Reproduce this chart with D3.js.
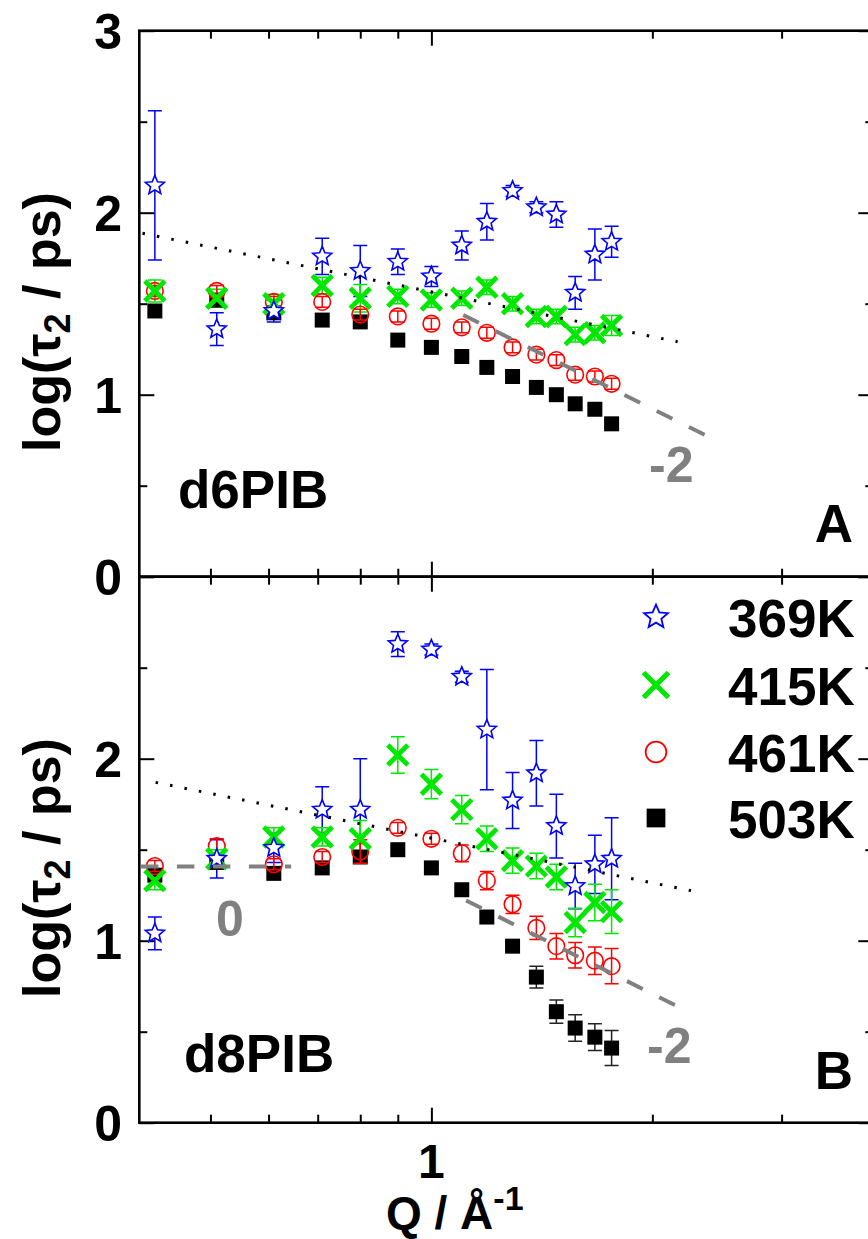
<!DOCTYPE html>
<html><head><meta charset="utf-8">
<script src="https://cdn.jsdelivr.net/npm/d3@7"></script>
<style>
body{margin:0;background:#fff;}
svg{display:block;}
text{font-family:"Liberation Sans",Arial,sans-serif;font-weight:bold;}
</style>
</head><body>
<svg id="c" width="868" height="1239"></svg>
<script>
// ---------- data ----------
const Q = [0.42,0.51,0.61,0.71,0.80,0.90,1.00,1.10,1.19,1.29,1.39,1.48,1.57,1.67,1.76];
const seriesNames = ["369K","415K","461K","503K"];

// Panel A (d6PIB)
const A369 = [2.15,1.36,1.46,1.76,1.68,1.73,1.65,1.82,1.95,2.12,2.03,1.99,1.56,1.77,1.84];
const A369err = [0.41,0.09,0.06,0.10,0.14,0.07,0.055,0.08,0.10,0.03,0.03,0.07,0.09,0.14,0.085];
const A415 = [1.57,1.53,1.50,1.60,1.53,1.54,1.52,1.53,1.59,1.50,1.43,1.43,1.33,1.34,1.38];
const A415err = [0.06,0.05,0.05,0.045,0.075,0.04,0.04,0.04,0.04,0.04,0.04,0.04,0.04,0.04,0.055];
const A461 = [1.57,1.57,1.51,1.51,1.44,1.43,1.39,1.37,1.34,1.26,1.22,1.19,1.11,1.10,1.06];
const A461err = [0.03,0.03,0.03,0.03,0.03,0.03,0.03,0.03,0.03,0.03,0.03,0.03,0.03,0.03,0.03];
const A503 = [1.46,1.52,1.45,1.41,1.40,1.30,1.26,1.21,1.15,1.10,1.04,1.00,0.95,0.92,0.84];
const A503err = [0.02,0.02,0.02,0.02,0.02,0.02,0.02,0.02,0.02,0.02,0.02,0.02,0.02,0.02,0.02];

// Panel B (d8PIB)
const B369 = [1.04,1.45,1.51,1.72,1.72,2.63,2.60,2.45,2.16,1.77,1.92,1.63,1.30,1.42,1.45];
const B369err = [0.09,0.105,0.08,0.126,0.28,0.068,0.03,0.03,0.33,0.154,0.18,0.175,0.125,0.16,0.225];
const B415 = [1.33,1.45,1.57,1.57,1.56,2.02,1.86,1.72,1.56,1.44,1.41,1.35,1.10,1.21,1.16];
const B415err = [0.05,0.05,0.05,0.05,0.10,0.10,0.08,0.078,0.07,0.07,0.07,0.07,0.078,0.10,0.12];
const B461 = [1.41,1.52,1.42,1.46,1.49,1.62,1.56,1.48,1.33,1.20,1.07,0.97,0.92,0.89,0.86];
const B461err = [0.03,0.04,0.03,0.03,0.065,0.03,0.03,0.046,0.05,0.05,0.064,0.07,0.07,0.076,0.097];
const B503 = [1.36,1.43,1.37,1.40,1.46,1.50,1.40,1.28,1.13,0.97,0.80,0.61,0.52,0.47,0.41];
const B503err = [0.02,0.02,0.02,0.02,0.03,0.02,0.02,0.02,0.03,0.03,0.06,0.064,0.073,0.073,0.096];

// guide lines (Q, log tau) endpoints
const dotA = [[0.404,1.887],[2.165,1.291]];
const dotB = [[0.421,1.870],[2.258,1.275]];
const slopeA = [[1.105,1.438],[2.43,0.753]];
const slopeB = [[1.115,1.221],[2.199,0.625]];
const flatB = [[0.402,1.408],[0.644,1.408]];

// ticks
const xDomain = [0.4, 4];
const xMajor = [1];
const xMinor = [0.5,0.6,0.7,0.8,0.9,2,3];
const yMajor = [0,1,2,3];
const yMinor = [0.5,1.5,2.5];
const yLabelsA = ["0","1","2","3"];
const yLabelsB = ["0","1","2"];

// ---------- scales ----------
const svg = d3.select("#c");
const X0 = 139.3, X1 = 873.3;
const x = d3.scaleLog().domain(xDomain).range([X0, X1]);
const yA = d3.scaleLinear().domain([0,3]).range([576.7, 30.7]);
const yB = d3.scaleLinear().domain([0,3]).range([1122.7, 576.7]);

const BLUE = "#0000ff", GREEN = "#00e800", RED = "#ff0000", GRAY = "#808080";

// ---------- symbols ----------
function starPath(r){
  const ri = r*0.45; let p = "";
  for (let k=0;k<10;k++){
    const a = -Math.PI/2 + k*Math.PI/5;
    const rr = k%2===0 ? r : ri;
    p += (k===0?"M":"L") + (rr*Math.cos(a)).toFixed(2) + "," + (rr*Math.sin(a)).toFixed(2);
  }
  return p + "Z";
}
function crossPath(h){ return `M${-h},${-h}L${h},${h}M${-h},${h}L${h},${-h}`; }
function circlePath(r){ return `M${r},0A${r},${r} 0 1,1 ${-r},0A${r},${r} 0 1,1 ${r},0Z`; }
function squarePath(h){ return `M${-h},${-h}H${h}V${h}H${-h}Z`; }

const styles = {
  "369K": {path: s=>starPath(10*s), fill:"#fff", stroke:BLUE, sw:1.6, ec:BLUE},
  "415K": {path: s=>crossPath(10*s), fill:"none", stroke:GREEN, sw:4.8, ec:GREEN},
  "461K": {path: s=>circlePath(8.3*s), fill:"none", stroke:RED, sw:1.6, ec:RED},
  "503K": {path: s=>squarePath(7.5*s), fill:"#000", stroke:"none", sw:0, ec:"#222"}
};

// ---------- panel drawing ----------
function drawPanel(y, data, lines, labels){
  const g = svg.append("g");
  g.append("rect").attr("x",X0).attr("y",y(3)).attr("width",X1-X0).attr("height",y(0)-y(3))
    .attr("fill","none").attr("stroke","#000").attr("stroke-width",2.6);
  const tick = (axis, tx, ty) => {
    const a = g.append("g").attr("transform",`translate(${tx},${ty})`).call(axis);
    a.select(".domain").remove();
    a.selectAll("line").attr("stroke","#000").attr("stroke-width",2);
  };
  tick(d3.axisLeft(y).tickValues(yMajor).tickSize(-15).tickFormat(""), X0, 0);
  tick(d3.axisLeft(y).tickValues(yMinor).tickSize(-8).tickFormat(""), X0, 0);
  tick(d3.axisRight(y).tickValues(yMajor).tickSize(-15).tickFormat(""), X1, 0);
  tick(d3.axisRight(y).tickValues(yMinor).tickSize(-8).tickFormat(""), X1, 0);
  tick(d3.axisTop(x).tickValues(xMajor).tickSize(-15).tickFormat(""), 0, y(3));
  tick(d3.axisTop(x).tickValues(xMinor).tickSize(-8).tickFormat(""), 0, y(3));
  tick(d3.axisBottom(x).tickValues(xMajor).tickSize(-15).tickFormat(""), 0, y(0));
  tick(d3.axisBottom(x).tickValues(xMinor).tickSize(-8).tickFormat(""), 0, y(0));

  g.selectAll(null).data(labels).join("text")
    .attr("x",122).attr("y",d=>y(+d)+18).attr("text-anchor","end")
    .attr("font-size",50).text(d=>d);

  data.forEach(sr=>{
    const st = styles[sr.name];
    const pts = Q.map((q,i)=>({cx:x(q), v:sr.v[i], e:sr.e[i]}));
    const cap = 7;
    const eb = g.append("g").attr("stroke",st.ec).attr("stroke-width",1.5).attr("fill","none");
    const mk = g.append("g");
    mk.selectAll("path").data(pts).join("path")
      .attr("transform",d=>`translate(${d.cx},${y(d.v)})`)
      .attr("d",st.path(1)).attr("fill",st.fill).attr("stroke",st.stroke).attr("stroke-width",st.sw);
    eb.selectAll("path").data(pts).join("path")
      .attr("d",d=>{const a=y(d.v-d.e), b=y(d.v+d.e);
        return `M${d.cx},${a}V${b}M${d.cx-cap},${a}H${d.cx+cap}M${d.cx-cap},${b}H${d.cx+cap}`;});
    if (sr.name!=="461K") eb.lower();
  });

  const line = d3.line().x(d=>x(d[0])).y(d=>y(d[1]));
  g.append("path").attr("d",line(lines.dot)).attr("fill","none").attr("stroke","#000")
    .attr("stroke-width",3).attr("stroke-dasharray","2.5,12.2");
  lines.dash.forEach(l=>{
    g.append("path").attr("d",line(l)).attr("fill","none").attr("stroke",GRAY)
      .attr("stroke-width",4).attr("stroke-dasharray","17.5,18.5");
  });
  return g;
}

const dataA = [
  {name:"503K", v:A503, e:A503err},
  {name:"461K", v:A461, e:A461err},
  {name:"415K", v:A415, e:A415err},
  {name:"369K", v:A369, e:A369err}
];
const dataB = [
  {name:"503K", v:B503, e:B503err},
  {name:"461K", v:B461, e:B461err},
  {name:"415K", v:B415, e:B415err},
  {name:"369K", v:B369, e:B369err}
];

drawPanel(yA, dataA, {dot:dotA, dash:[slopeA]}, yLabelsA);
drawPanel(yB, dataB, {dot:dotB, dash:[slopeB, flatB]}, yLabelsB);

// ---------- annotations ----------
const ann = svg.append("g");
ann.append("text").attr("x",178).attr("y",508).attr("font-size",53).text("d6PIB");
ann.append("text").attr("x",184).attr("y",1072).attr("font-size",53).text("d8PIB");
ann.append("text").attr("x",853).attr("y",542).attr("text-anchor","end").attr("font-size",53).text("A");
ann.append("text").attr("x",853).attr("y",1089).attr("text-anchor","end").attr("font-size",53).text("B");
ann.append("text").attr("x",649).attr("y",482).attr("font-size",50).attr("fill",GRAY).text("-2");
ann.append("text").attr("x",647).attr("y",1063).attr("font-size",50).attr("fill",GRAY).text("-2");
ann.append("text").attr("x",216).attr("y",936).attr("font-size",50).attr("fill",GRAY).text("0");

// y titles
[322, 868].forEach(cy=>{
  const t = svg.append("text").attr("transform",`translate(60,${cy}) rotate(-90)`)
    .attr("text-anchor","middle").attr("font-size",52);
  t.append("tspan").text("log(τ");
  t.append("tspan").attr("font-size",36).attr("dy",10).text("2");
  t.append("tspan").attr("dy",-10).text(" / ps)");
});

// x tick label + title
svg.append("text").attr("x",x(1)).attr("y",1178).attr("text-anchor","middle").attr("font-size",48).text("1");
const xt = svg.append("text").attr("x",386).attr("y",1229).attr("font-size",46);
xt.append("tspan").text("Q / Å");
xt.append("tspan").attr("font-size",34).attr("dy",-19).text("-1");

// ---------- legend ----------
const legY = [617, 685, 752, 818];
const lg = svg.append("g");
seriesNames.forEach((n,i)=>{
  const st = styles[n];
  lg.append("path").attr("transform",`translate(656,${legY[i]})`).attr("d",st.path(1.25))
    .attr("fill",st.fill).attr("stroke",st.stroke).attr("stroke-width",n==="415K"?5.2:1.8);
  lg.append("text").attr("x",728).attr("y",legY[i]+20).attr("font-size",53).text(n);
});
</script>
</body></html>
